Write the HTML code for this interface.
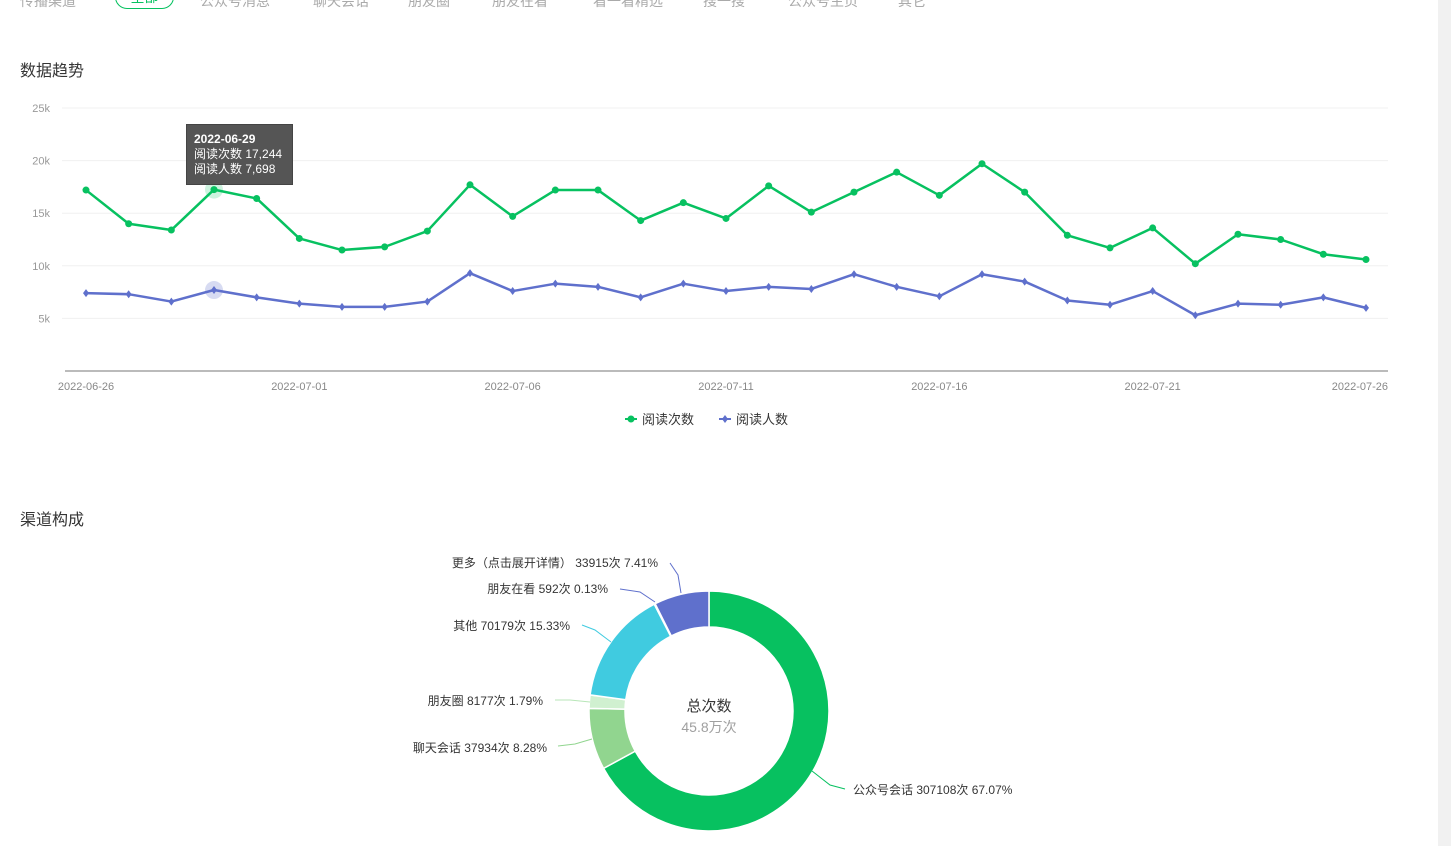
<!DOCTYPE html>
<html><head><meta charset="utf-8"><style>
body{margin:0;width:1451px;height:846px;background:#fff;overflow:hidden;position:relative;font-family:"Liberation Sans","Noto Sans CJK SC",sans-serif;color:#353535}
.abs{position:absolute}
.lbl{position:absolute;font-size:12px;color:#353535;white-space:nowrap}
</style></head><body>
<div class="abs" style="left:0;top:-9px;width:1000px;height:20px;font-size:14px;color:#aaa">
<span class="abs" style="left:20px;top:0">传播渠道</span>
<span class="abs" style="left:115px;top:-6px;width:57px;height:22px;border:1px solid #07c160;border-radius:12px;color:#07c160;text-align:center;line-height:22px">全部</span>
<span class="abs" style="left:200px;top:0">公众号消息</span>
<span class="abs" style="left:313px;top:0">聊天会话</span>
<span class="abs" style="left:408px;top:0">朋友圈</span>
<span class="abs" style="left:492px;top:0">朋友在看</span>
<span class="abs" style="left:593px;top:0">看一看精选</span>
<span class="abs" style="left:703px;top:0">搜一搜</span>
<span class="abs" style="left:788px;top:0">公众号主页</span>
<span class="abs" style="left:898px;top:0">其它</span>
</div>
<div class="abs" style="left:1438px;top:0;width:13px;height:846px;background:#f1f1f1"></div>
<div class="abs" style="left:20px;top:57px;font-size:16px;color:#353535">数据趋势</div>
<div class="abs" style="left:20px;top:506px;font-size:16px;color:#353535">渠道构成</div>

<svg class="abs" style="left:0;top:0" width="1451" height="846" id="svg"></svg>

<div class="abs" style="left:186px;top:124px;width:107px;height:61px;background:#555;border:1px solid #444;box-sizing:border-box;color:#fff;font-size:12px;line-height:15px;padding:7px 0 0 7px">
<b>2022-06-29</b><br><span>阅读次数 17,244</span><br><span>阅读人数 7,698</span></div>

<script>
const dates=[];for(let i=0;i<31;i++){const d=new Date(2022,5,26+i);dates.push(d.getFullYear()+'-'+String(d.getMonth()+1).padStart(2,'0')+'-'+String(d.getDate()).padStart(2,'0'));}
const reads=[17.2,14.0,13.4,17.244,16.4,12.6,11.5,11.8,13.3,17.7,14.7,17.2,17.2,14.3,16.0,14.5,17.6,15.1,17.0,18.9,16.7,19.7,17.0,12.9,11.7,13.6,10.2,13.0,12.5,11.1,10.6];
const readers=[7.4,7.3,6.6,7.698,7.0,6.4,6.1,6.1,6.6,9.3,7.6,8.3,8.0,7.0,8.3,7.6,8.0,7.8,9.2,8.0,7.1,9.2,8.5,6.7,6.3,7.6,5.3,6.4,6.3,7.0,6.0];
const yTicks=[5,10,15,20,25];
const tickLabels=['5k','10k','15k','20k','25k'];
const xTickIdx=[0,5,10,15,20,25,30];
const pieNames=['公众号会话','聊天会话','朋友圈','其他','朋友在看','更多（点击展开详情）'];
const pieValues=[307108,37934,8177,70179,592,33915];
const pieColors=['#07c160','#91d58f','#d0f0d0','#40cbe0','#5f70cc','#5f70cc'];
const NS='http://www.w3.org/2000/svg';const svg=document.getElementById('svg');
function mk(t,a,p){const e=document.createElementNS(NS,t);for(const k in a)e.setAttribute(k,a[k]);(p||svg).appendChild(e);return e;}
const X=i=>86+i*(1366-86)/30;const Y=v=>371-v*10.52;
yTicks.forEach((v,i)=>{const l=mk('line',{x1:62,x2:1388,y1:Y(v),y2:Y(v),stroke:'#f0f0f0'});


const t=mk('text',{x:50,y:Y(v)+4,'text-anchor':'end','font-size':11,fill:'#999'});t.textContent=tickLabels[i];

});
const ax=mk('line',{x1:65,x2:1388,y1:371,y2:371,stroke:'#bbb','stroke-width':2});


xTickIdx.forEach(i=>{const t=mk('text',{x:X(i),y:390,'text-anchor':i==30?'end':'middle','font-size':11,fill:'#888'});if(i==30)t.setAttribute('x',1388);t.textContent=dates[i];

});
// highlight
const h1=mk('circle',{cx:X(3),cy:Y(reads[3]),r:9,fill:'#07c160',opacity:0.2});


const h2=mk('circle',{cx:X(3),cy:Y(readers[3]),r:9,fill:'#5f70cc',opacity:0.25});


function series(vals,color,name,diamond){
const p=mk('polyline',{points:vals.map((v,i)=>X(i)+','+Y(v)).join(' '),fill:'none',stroke:color,'stroke-width':2.5,'stroke-linejoin':'round'});


vals.forEach((v,i)=>{let m;if(diamond){const x=X(i),y=Y(v);m=mk('polygon',{points:`${x},${y-4} ${x+3},${y} ${x},${y+4} ${x-3},${y}`,fill:color});}
else m=mk('circle',{cx:X(i),cy:Y(v),r:3.5,fill:color});

});}
series(reads,'#07c160','reads',false);
series(readers,'#5f70cc','readers',true);
// legend
const lg=mk('g',{});
mk('line',{x1:625,x2:637,y1:419,y2:419,stroke:'#07c160','stroke-width':2},lg);mk('circle',{cx:631,cy:419,r:3.5,fill:'#07c160'},lg);
let t1=mk('text',{x:642,y:424,'font-size':13,fill:'#353535'},lg);t1.textContent='阅读次数';


mk('line',{x1:719,x2:731,y1:419,y2:419,stroke:'#5f70cc','stroke-width':2},lg);mk('polygon',{points:'725,415 728,419 725,423 722,419',fill:'#5f70cc'},lg);
let t2=mk('text',{x:736,y:424,'font-size':13,fill:'#353535'},lg);t2.textContent='阅读人数';


// donut
const cx=709,cy=711,R=120,r=84;const total=pieValues.reduce((a,b)=>a+b,0);let a0=-Math.PI/2;
const labelPos=[[853,794,'start',[[812,771],[830,785],[845,789]]],[547,752,'end',[[592,739],[575,744],[558,746]]],[543,705,'end',[[590,702],[570,700],[555,700]]],[570,630,'end',[[611,642],[595,630],[582,625]]],[608,593,'end',[[655,602],[640,592],[620,589]]],[658,567,'end',[[681,593],[678,575],[670,563]]]];
pieValues.forEach((v,i)=>{const a1=a0+v/total*2*Math.PI;const lg2=(a1-a0)>Math.PI?1:0;
const P=(rr,a)=>(cx+rr*Math.cos(a))+','+(cy+rr*Math.sin(a));
const s=mk('path',{d:`M${P(R,a0)} A${R},${R} 0 ${lg2} 1 ${P(R,a1)} L${P(r,a1)} A${r},${r} 0 ${lg2} 0 ${P(r,a0)} Z`,fill:pieColors[i],stroke:'#fff','stroke-width':1.5});


const lp=labelPos[i];
const pl=mk('polyline',{points:lp[3].map(p=>p.join(',')).join(' '),fill:'none',stroke:pieColors[i]=='#d0f0d0'?'#b8e6b8':pieColors[i],'stroke-width':1});


const t=mk('text',{x:lp[0],y:lp[1],'text-anchor':lp[2],'font-size':12,fill:'#353535'});
t.textContent=pieNames[i]+(i==5?'  ':' ')+v+'次 '+(v/total*100).toFixed(2)+'%';


a0=a1;});
const c1=mk('text',{x:cx,y:711,'text-anchor':'middle','font-size':15,fill:'#353535'});c1.textContent='总次数';


const c2=mk('text',{x:cx,y:732,'text-anchor':'middle','font-size':14,fill:'#a0a0a0'});c2.textContent=(total/10000).toFixed(1)+'万次';


</script>
</body></html>
